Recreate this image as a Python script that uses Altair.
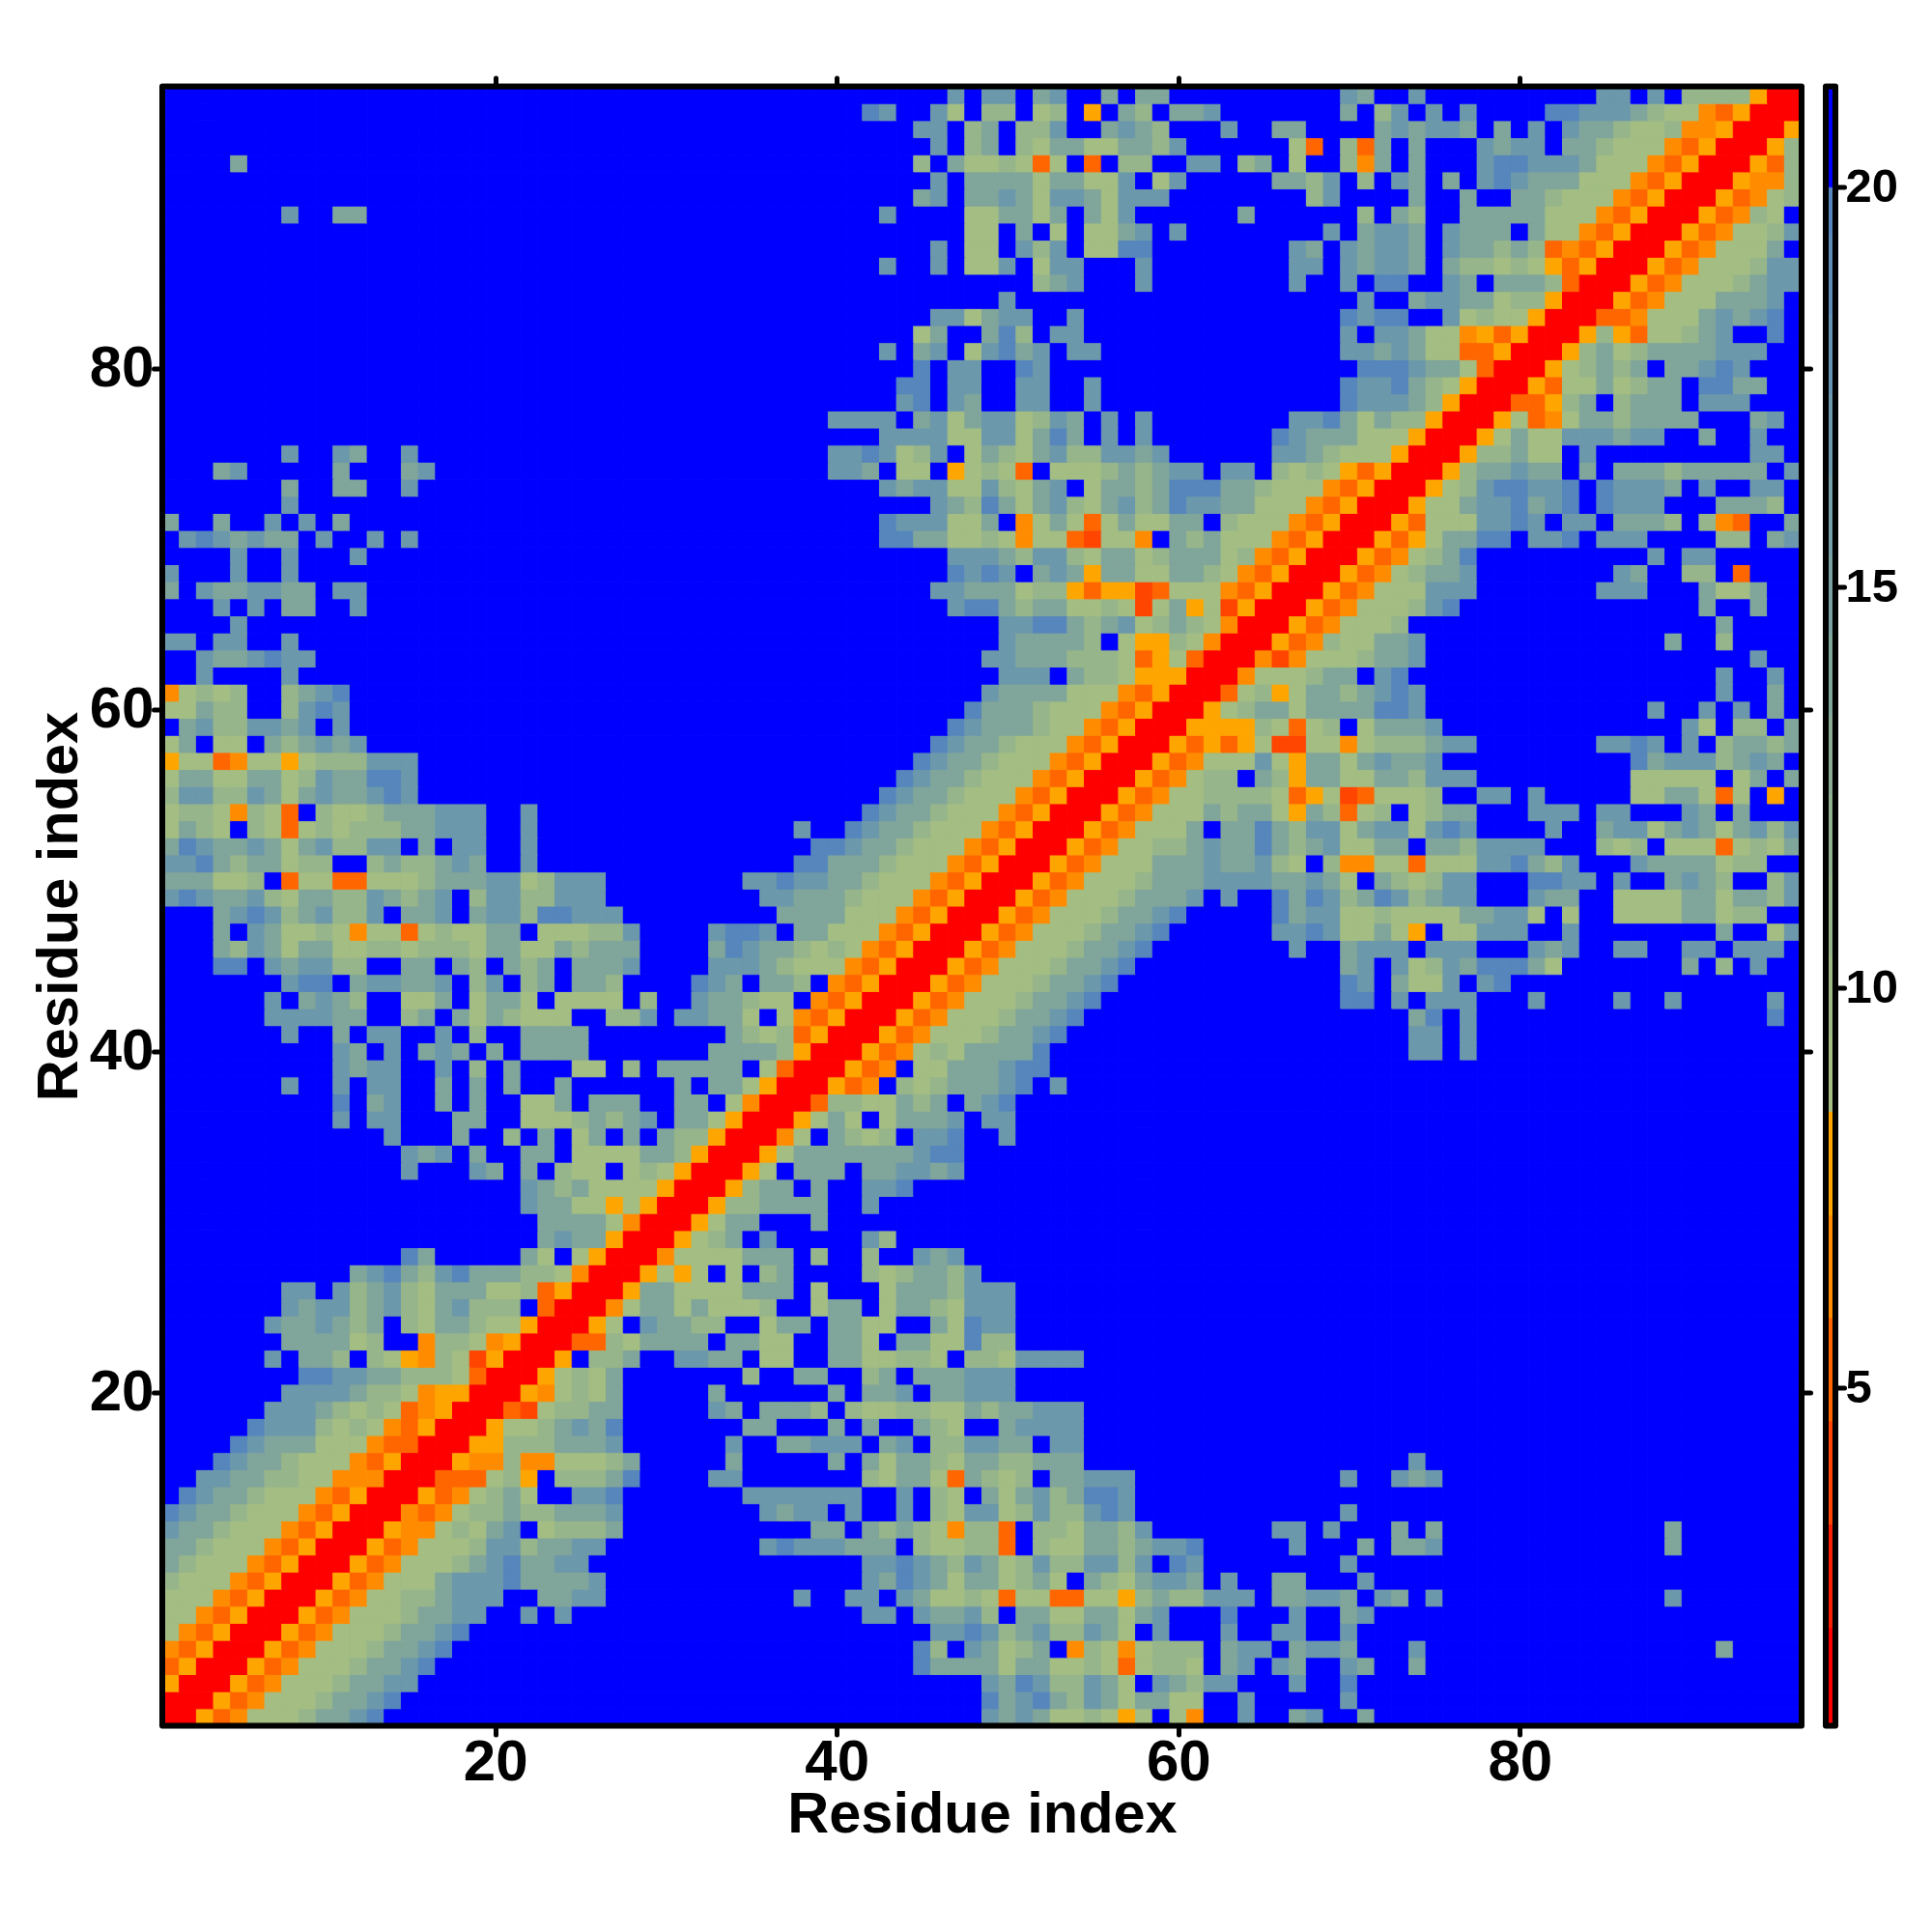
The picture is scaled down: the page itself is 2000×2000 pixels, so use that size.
import altair as alt
import pandas as pd

# Lower triangle of the symmetric map, one row per residue; each row is split into
# groups of 24 residues (1-24, 25-48, 49-72, 73-96). Each character is a distance class.
B24 = "........................"
rows = [
 "R", "RR", "yRR", "oyRR", "poyRR", "apoyRR", "aapoyRR", "aaapoyRR", "baaapoyRR", "cbaaapoyRR",
 "ccbaaapoyRR", "dccbaaapoyRR", "edccbaaapoyRR", ".edccbaaapoyRR", "..ddccbbaapppRR",
 "...edccbaaapoyRR", "....edcccaaapooRR", ".....edddbabapoyRR", "......dddcbabaopyRR",
 ".......ddddcbbapyyRR", "........eeddccbbbaoRR", "......d.ccb.baypbaryRR",
 ".......ccccab..pbbapyRR", "......dccdcbc.baccbaayRR",
 ".......dcddbcdbacdbbb.oR R",
 ".......dd.dbcdbacccaaboy RR",
 "...........cdecbdecccbba pRR",
 "..............ec.....ca. ayRR",
 "......................cd ccyRR",
 "......................cc ccapRR",
 ".....................dcc aayayRR",
 ".....................dcb caaaayRR",
 "..............d...dc.c.b aa.abayRR",
 "..............dcd.c..cc. aaaaccbyRR",
 ".............d...c..b.c. ac.c.cbbyRR",
 "..........d.dd...cc..aaa bcbcd.ccayRR",
 "..........e.cd..c.c..aac .ccc..cc.apRR",
 ".......d..d.dd..c.c.c..c ......c.ccayRR",
 "..........dcdd..d.b.c... aa.b.ccccc.aoRR",
 "..........dc.d.cdc.c.ccc c.......ccccbyRR",
 ".......d..c.dd..d.b..ccc c........cbaboyRR",
 "......ddddcc..bc.cacbaaa ..bbd.ddcca.apoyRR",
 "......d.cdcb..aac.acca.a aaa.b..dccbaa.poyRR",
 ".......dee.cddccd.bd.bc. ccb....edc.ccb.poyRR",
 "...ee.dcddbb..cc.cb.cbc. cccd....dddcbaaapoyRR",
 "...cbdcaccaabbabbbaccaac bccc....cedccbabapoyRR",
 "...c.dcaabapaaoabaacc.aa abbd....deed.ccaaapoyRR",
 "...cdedbcdbbd.ccd.cddbee ddd.........ccccaaapoyRR",
 "dedccdbaccbbdcbcd.bddbbd dd.........ddcccbaaapoyR R",
 "cccaab.oaaooaaabcccddabd dd........ddeddccbaaapoy RR",
 "ddecbccabb..bcbbcdc..d.. .............eecccbaaapo yRR",
 "cedccdcacdbbdd.c.dd..d.. ..............eedccbaaap oyRR",
 "acba.baoababbbccddd..d.. .............d..edccbaaa poyRR",
 "abbapbao.baabcccddd..d.. .................edccbaa apoyRR",
 "bddbbdcacdccded......... ..................edccba aapoyRR",
 "accaaccabdcceed......... ...................edccb aaapoyRR",
 "yaaopaayabbbddd......... ....................edcc baaapoyRR",
 "ac.aa.cbcdcd............ .....................edc cbaaapoyRR",
 ".cdbbddcd.d............. ......................ed cccbaapoyRR",
 "aacbb..bded............. .......................e cccbaaapoyRR",
 "pabab..bcde............. " + B24 + " dccccaaapoyRR",
 "..d....d................ " + B24 + " .ddd.cbbayyyRR",
 "..dccdedd............... " + B24 + " ddcccbbbaoyaoRR",
 "dd.dd..d................ " + B24 + " .dccccb.ayybapRR",
 "....d................... " + B24 + " .ddeecbcdabcbapRR",
 "...d.d.cc..d............ ......................de ecbccaabaracyaryRR",
 "c.dccddcc.dd............ .....................ddc ccabbyoyyroaaapoyRR",
 "d...d..d................ ......................ed ed.cdcyccaaccbapoyRR",
 "....d..d...d............ ......................dd dcbddbaccabcccabpoyRR",
 ".dedcdcc.d..d.d......... ..................eeccaa bapaaoraap.cbcaaapoyRR",
 "c..c..d.d.c............. ..................edddaa c.pacaoacaacc.baaapoyRR",
 ".......d................ .....................dcb ecacdbacdbceddccaaapoyRR",
 ".......c..cc..d......... ..................dcddaa dbacd.accbceeeccbaaapoyR R",
 "...cd.....c...cd........ ...............ddc.aa.ya bao.aaabcbcdd.dd.babayoy RR",
 ".......d..dc..d......... ...............ddedabd.a cbacdbbddcd......ddcbaaa yRR",
 B24 + " ..................ddddaa ddacec.d.d.......edcccaa ayRR",
 B24 + " ...............dddd.cdac ddabdc.d.d........ddecac bbyRR",
 B24 + " ...................de.dc ..dd..d..............edd dcbyRR",
 B24 + " ...................ee.dd ..dd..d..............edd ecbayRR",
 B24 + " ....................e.dd ..ed..................ee edccaoRR",
 B24 + " ..................d.cd.a decd.dd..............ddc dcaaooyRR",
 B24 + " ....................ac.. ceb.dd...............d.d dcaapyoyRR",
 B24 + " .....................dda cdd..d...............ede e..dabaayRR",
 B24 + " " + B24 + " .d....................d. .cddccabbyRR",
 B24 + " " + B24 + " ...bcd...d........d..d.e e..dc.cccboRR",
 B24 + " ..................d..d.a ad.add...d........dd.dcd dc.cbbabayoyRR",
 B24 + " .....................d.a a.dbd.aaee........dc.dcd dc.dccbcbopoyRR",
 B24 + " .......................a a.c.a.aacd.d........d.cd dc.dccc.caapoyRR",
 ".......d..cc............ ..................d....a accac.cad......c......b. cb..cccccaaapoyRR",
 B24 + " ....................cd.c cdcaddcaddd........bd... .c..c..ccbaaapoyRR",
 B24 + " .....................d.c cccaccaad.ad.....ccbd.b. dc.c.dedcccaaapoyRR",
 "....c................... ....................b.ca abaoa.o.bb..dd.bc.a..bpc .c...deedddcaaapoyRR",
 B24 + " .....................d.b c.baccaaccbd......ao.boc .c...dcdd.ccbaaapoyRR",
 B24 + " ....................dd.b c.bbd..cdcb...d..cc....c dcddc.c.d.dccbaabppyRR",
 B24 + " .................ed..da. bb.ab.y.cb.ccd.......c.b d.d.d....eedddcbaapoyRR",
 B24 + " ......................d. dd.cd..c.cc..........dc. .d..........dd.d.bbbbyRR",
]

class_values = {"R": 1.5, "r": 3.9, "o": 5.0, "p": 6.5, "y": 7.8, "a": 9.0,
                "b": 11.0, "c": 14.0, "d": 17.0, "e": 19.6, ".": 21.0}

bar_edges = [0.77, 2.0, 3.29, 4.58, 5.87, 7.15, 8.45, 9.4, 10.4, 11.4, 12.4, 13.4,
             14.4, 15.4, 16.4, 17.4, 18.4, 19.4, 20.0, 21.26]
bar_colors = ["#FF0000", "#F82000", "#FF4500", "#FF6600", "#FF8C00", "#FFA500",
              "#A3BD83", "#9DB986", "#97B58A", "#90B08F", "#89AB94", "#80A59A",
              "#7AA1A0", "#749DA5", "#6C98AB", "#6692B1", "#5E8CB6", "#5686BB", "#0000FF"]

major_ticks = [20, 40, 60, 80]
bar_ticks = [5, 10, 15, 20]
axis_title = "Residue index"
FONT = "Liberation Sans"
N = 96

grid = {}
for r, text in enumerate(rows, start=1):
    c = 0
    for group in text.split(" "):
        for ch in group:
            c += 1
            grid[(r, c)] = class_values[ch]
            grid[(c, r)] = class_values[ch]

records = [{"x0": c - 0.5, "x1": c + 0.5, "y0": r - 0.5, "y1": r + 0.5,
            "v": grid.get((r, c), 21.0)}
           for r in range(1, N + 1) for c in range(1, N + 1)]
cells = pd.DataFrame(records)

xy_scale = alt.Scale(domain=[0.5, N + 0.5], nice=False, zero=False)
color_scale = alt.Scale(type="threshold", domain=bar_edges[1:-1], range=bar_colors)

TICK = dict(tickColor="black", tickWidth=5, tickSize=9, tickCap="round",
            domain=False, grid=False)
def main_axis(orient, labels, title_pad=0):
    if labels:
        return alt.Axis(orient=orient, values=major_ticks, title=axis_title, labels=True,
                        labelFont=FONT, labelFontWeight="bold", labelFontSize=60,
                        labelColor="black", labelPadding=0, titleFont=FONT,
                        titleFontWeight="bold", titleFontSize=59.5, titleColor="black",
                        titlePadding=title_pad, **TICK)
    return alt.Axis(orient=orient, values=major_ticks, title=None, labels=False, **TICK)

heat = alt.Chart(cells).mark_rect(strokeWidth=1).encode(
    x=alt.X("x0:Q", scale=xy_scale, axis=main_axis("bottom", True, -5)),
    x2="x1:Q",
    y=alt.Y("y0:Q", scale=xy_scale, axis=main_axis("left", True, 1)),
    y2="y1:Q",
    fill=alt.Fill("v:Q", scale=color_scale, legend=None),
    stroke=alt.Stroke("v:Q", scale=color_scale, legend=None),
)

frame_data = pd.DataFrame([{"x0": 0.5, "x1": N + 0.5, "y0": 0.5, "y1": N + 0.5}])
frame = alt.Chart(frame_data).mark_rect(
    fillOpacity=0, stroke="black", strokeWidth=6, strokeJoin="round"
).encode(
    x=alt.X("x0:Q", scale=xy_scale, axis=main_axis("top", False)),
    x2="x1:Q",
    y=alt.Y("y0:Q", scale=xy_scale, axis=main_axis("right", False)),
    y2="y1:Q",
)

main = alt.layer(heat, frame).resolve_axis(x="independent", y="independent").properties(
    width=1697, height=1697
)

bar_df = pd.DataFrame({"lo": bar_edges[:-1], "hi": bar_edges[1:], "col": bar_colors,
                       "a": [0] * len(bar_colors), "b": [1] * len(bar_colors)})
bar_scale = alt.Scale(domain=[bar_edges[0], bar_edges[-1]], nice=False, zero=False)
bar_x = alt.Scale(domain=[0, 1])
bar_axis = alt.Axis(orient="right", values=bar_ticks, title=None, labelFont=FONT,
                    labelFontWeight="bold", labelFontSize=49, labelColor="black",
                    labelPadding=1, labelOverlap=False, **TICK)
bar_rects = alt.Chart(bar_df).mark_rect(strokeWidth=0.6).encode(
    x=alt.X("a:Q", scale=bar_x, axis=None),
    x2="b:Q",
    y=alt.Y("lo:Q", scale=bar_scale, axis=bar_axis),
    y2="hi:Q",
    fill=alt.Fill("col:N", scale=None),
    stroke=alt.Stroke("col:N", scale=None),
)
bar_frame = alt.Chart(pd.DataFrame([{"a": 0, "b": 1, "lo": bar_edges[0], "hi": bar_edges[-1]}])).mark_rect(
    fillOpacity=0, stroke="black", strokeWidth=6, strokeJoin="round"
).encode(
    x=alt.X("a:Q", scale=bar_x, axis=None),
    x2="b:Q",
    y=alt.Y("lo:Q", scale=bar_scale, axis=bar_axis),
    y2="hi:Q",
)
bar = alt.layer(bar_rects, bar_frame).properties(width=10, height=1697)

chart = alt.hconcat(main, bar, spacing=10).properties(
    padding={"left": 23, "top": 69.5, "right": 5, "bottom": 5},
    background="white",
).configure_view(stroke=None)

chart.save("out.html", embed_options={"renderer": "svg", "actions": False})
